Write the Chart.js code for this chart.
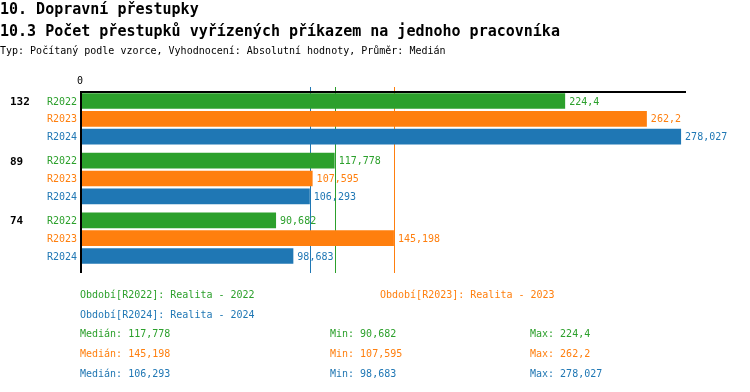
<!DOCTYPE html>
<html>
<head>
<meta charset="utf-8">
<script src="https://cdn.jsdelivr.net/npm/chart.js@4"></script>
<style>
  body { margin: 0; background: #fff; }
  #wrap { position: relative; width: 750px; height: 392px; overflow: hidden; }
  #chart { position: absolute; left: 0; top: 0; }
  .t { position: absolute; font-family: 'DejaVu Sans Mono', monospace; white-space: pre; line-height: 1; }
  .h { font-size: 15px; font-weight: bold; color: #000; }
  .s { font-size: 10px; }
</style>
</head>
<body>
<div id="wrap">
  <canvas id="chart" width="750" height="392"></canvas>
  <div class="t h" style="left:0;top:2px">10. Dopravní přestupky</div>
  <div class="t h" style="left:0;top:24px">10.3 Počet přestupků vyřízených příkazem na jednoho pracovníka</div>
  <div class="t s" style="left:0;top:46px;color:#000">Typ: Počítaný podle vzorce, Vyhodnocení: Absolutní hodnoty, Průměr: Medián</div>
  <div id="legend"></div>
</div>
<script>
// data
let categories = ['132', '89', '74'];
let seriesNames = ['R2022', 'R2023', 'R2024'];
let seriesTitles = ['Realita - 2022', 'Realita - 2023', 'Realita - 2024'];
let r2022 = [224.4, 117.778, 90.682];
let r2023 = [262.2, 107.595, 145.198];
let r2024 = [278.027, 106.293, 98.683];
let colors = ['#2ca02c', '#ff7f0e', '#1f77b4'];
let xTicks = [0];

let allSeries = [r2022, r2023, r2024];

function fmt(v) {
    return String(v).replace('.', ',');
}

function median(arr) {
    let s = arr.slice().sort((a, b) => a - b);
    let m = Math.floor(s.length / 2);
    return s.length % 2 ? s[m] : (s[m - 1] + s[m]) / 2;
}

// legend + stats as html text
function buildLegend() {
    let html = '';
    let spots = [[80, 289.5], [380, 289.5], [80, 309.5]];
    seriesNames.forEach((name, i) => {
        html += `<div class="t s" style="left:${spots[i][0]}px;top:${spots[i][1]}px;color:${colors[i]}">Období[${name}]: ${seriesTitles[i]}</div>`;
    });
    allSeries.forEach((arr, i) => {
        let top = 329.3 + i * 20;
        html += `<div class="t s" style="left:80px;top:${top}px;color:${colors[i]}">Medián: ${fmt(median(arr))}</div>`;
        html += `<div class="t s" style="left:330px;top:${top}px;color:${colors[i]}">Min: ${fmt(Math.min(...arr))}</div>`;
        html += `<div class="t s" style="left:530px;top:${top}px;color:${colors[i]}">Max: ${fmt(Math.max(...arr))}</div>`;
    });
    document.getElementById('legend').innerHTML = html;
}

const lowPlugin = {
    id: 'medians',
    beforeDatasetsDraw(chart) {
        const ctx = chart.ctx;
        const x = chart.scales.x;
        ctx.save();
        ctx.lineWidth = 1;
        allSeries.forEach((arr, i) => {
            let px = Math.round(x.getPixelForValue(median(arr))) + 0.5;
            ctx.strokeStyle = colors[i];
            ctx.beginPath();
            ctx.moveTo(px, 87);
            ctx.lineTo(px, 273);
            ctx.stroke();
        });
        ctx.restore();
    }
};

const labelPlugin = {
    id: 'labels',
    afterDatasetsDraw(chart) {
        const ctx = chart.ctx;
        const x = chart.scales.x;
        const area = chart.chartArea;
        ctx.save();
        // axis lines
        ctx.fillStyle = '#000';
        let x0 = x.getPixelForValue(0);
        ctx.fillRect(x0, 91, area.right - x0, 2);
        ctx.fillRect(x0, 91, 2, 182);
        // tick label
        ctx.font = '10px "DejaVu Sans Mono"';
        ctx.textAlign = 'center';
        ctx.textBaseline = 'middle';
        xTicks.forEach(t => ctx.fillText(String(t), x.getPixelForValue(t), 81));

        chart.data.datasets.forEach((ds, i) => {
            let meta = chart.getDatasetMeta(i);
            meta.data.forEach((bar, j) => {
                ctx.fillStyle = colors[i];
                ctx.font = '10px "DejaVu Sans Mono"';
                ctx.textBaseline = 'middle';
                ctx.textAlign = 'left';
                ctx.fillText(fmt(ds.data[j]), bar.x + 4, bar.y + 1);
                ctx.textAlign = 'right';
                ctx.fillText(seriesNames[i], 77, bar.y + 1);
                if (i === 0) {
                    ctx.fillStyle = '#000';
                    ctx.font = 'bold 11px "DejaVu Sans Mono"';
                    ctx.textAlign = 'left';
                    ctx.fillText(categories[j], 10, bar.y + 1);
                }
            });
        });
        ctx.restore();
    }
};

function drawChart() {
    const ctx = document.getElementById('chart').getContext('2d');
    new Chart(ctx, {
        type: 'bar',
        data: {
            labels: categories,
            datasets: allSeries.map((arr, i) => ({
                label: seriesNames[i],
                data: arr,
                backgroundColor: colors[i],
                borderWidth: 0,
                categoryPercentage: 0.896,
                barPercentage: 0.88
            }))
        },
        options: {
            indexAxis: 'y',
            responsive: false,
            animation: false,
            devicePixelRatio: 1,
            layout: { padding: { left: 80, right: 64, top: 89, bottom: 124 } },
            plugins: {
                legend: { display: false },
                title: { display: false },
                tooltip: { enabled: false }
            },
            scales: {
                x: { display: false, min: 0, max: 280.3 },
                y: { display: false }
            }
        },
        plugins: [lowPlugin, labelPlugin]
    });
}

buildLegend();
drawChart();
</script>
</body>
</html>
